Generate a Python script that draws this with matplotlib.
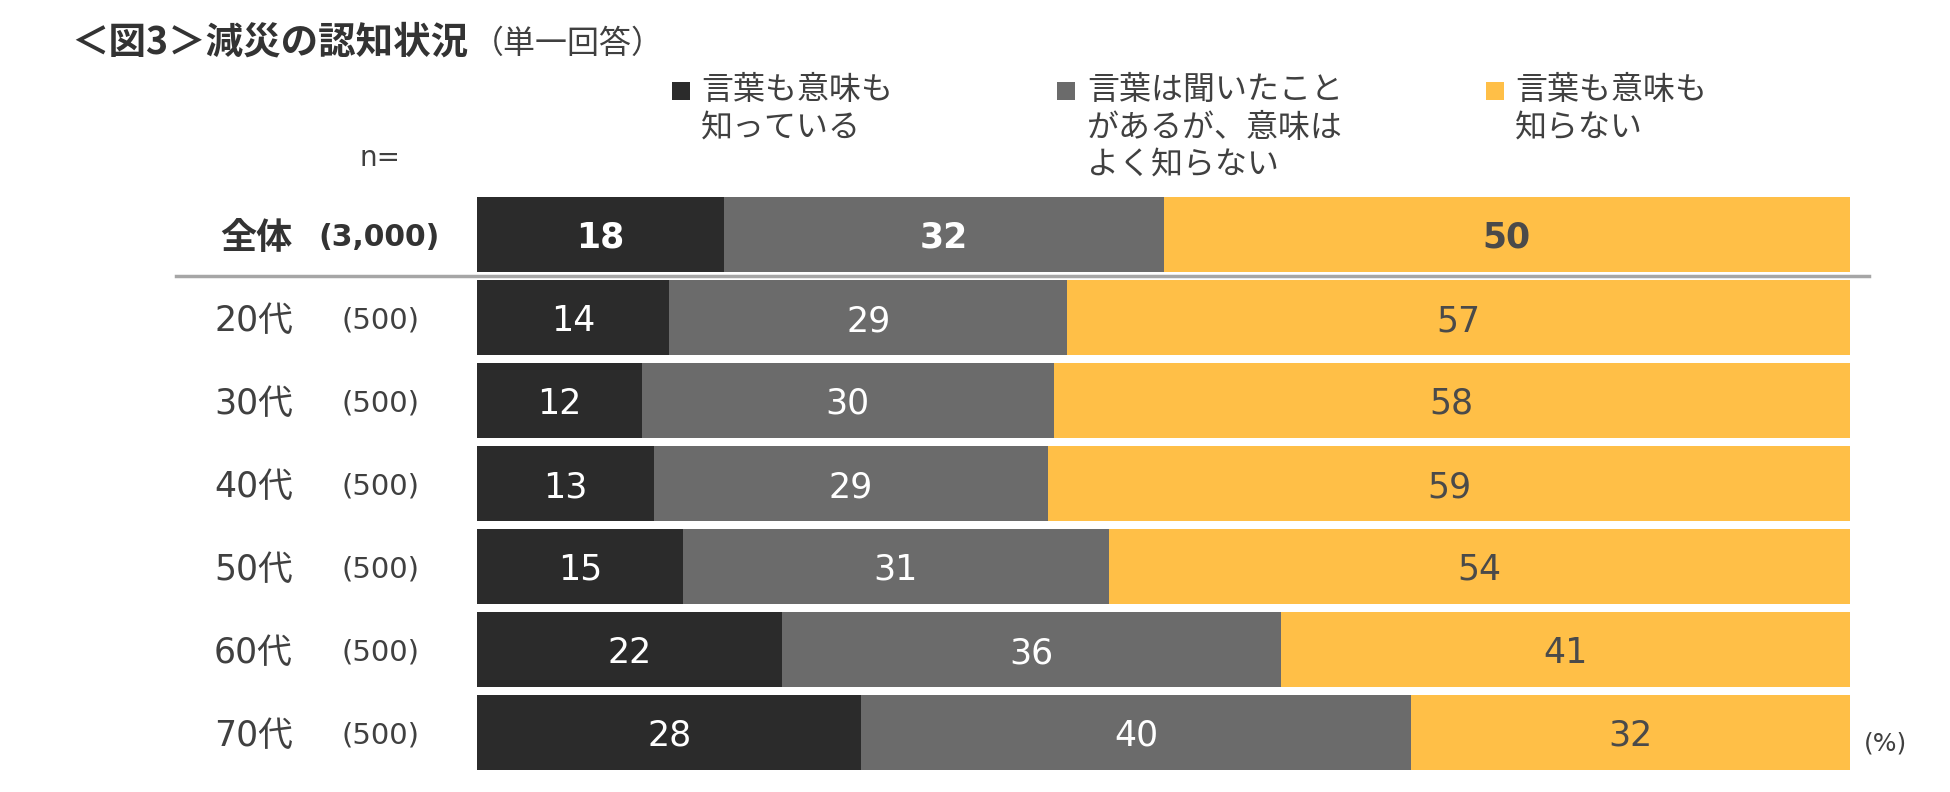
import numpy as np
import matplotlib.pyplot as plt
from matplotlib.patches import Rectangle
from matplotlib.lines import Line2D

CJK = ['Noto Sans CJK JP', 'DejaVu Sans']
LAT = ['DejaVu Sans', 'Noto Sans CJK JP']
plt.rcParams['font.family'] = CJK

# data
groups = ['全体', '20代', '30代', '40代', '50代', '60代', '70代']
n_labels = ['(3,000)', '(500)', '(500)', '(500)', '(500)', '(500)', '(500)']
know_both = [18, 14, 12, 13, 15, 22, 28]
heard_only = [32, 29, 30, 29, 31, 36, 40]
dont_know = [50, 57, 58, 59, 54, 41, 32]
series_names = ['言葉も意味も\n知っている',
                '言葉は聞いたこと\nがあるが、意味は\nよく知らない',
                '言葉も意味も\n知らない']

colors = ['#2b2b2b', '#6b6b6b', '#ffbf47']
text_colors = ['white', 'white', '#4a4a4a']

W, H = 1950, 792


def fx(px):
    return px / W


def fy(py):
    return 1 - py / H


fig = plt.figure(figsize=(W / 100, H / 100), dpi=100)

# bar area: x 0-100% maps to pixels 477..1850, rows centred 234.5 + 83*i
ax = fig.add_axes([fx(477), fy(774), (1850 - 477) / W, (774 - 193) / H])
ax.set_xlim(0, 100)
ax.set_ylim(6.5, -0.5)
ax.axis('off')

vals = np.array([know_both, heard_only, dont_know], dtype=float)
shares = vals / vals.sum(axis=0) * 100  # 100% stacked
lefts = np.vstack([np.zeros(len(groups)), np.cumsum(shares, axis=0)[:-1]])
y = np.arange(len(groups))

for k in range(3):
    ax.barh(y, shares[k], left=lefts[k], height=0.9, color=colors[k], linewidth=0)
    for i in range(len(groups)):
        bold = i == 0
        ax.text(lefts[k][i] + shares[k][i] / 2, i, f'{vals[k][i]:.0f}',
                ha='center', va='center_baseline', color=text_colors[k], family=LAT,
                fontsize=25, fontweight='bold' if bold else 'normal')

# row labels and sample sizes
for i, (g, n) in enumerate(zip(groups, n_labels)):
    py = 234.5 + 83 * i
    if i == 0:
        fig.text(fx(293), fy(py), g, ha='right', va='center_baseline',
                 fontsize=26, fontweight='bold', color='#333333', family=CJK)
        fig.text(fx(379), fy(py), n, ha='center', va='center_baseline',
                 fontsize=21.5, fontweight='bold', color='#333333', family=LAT)
    else:
        fig.text(fx(293), fy(py), g, ha='right', va='center_baseline',
                 fontsize=25, color='#404040', family=LAT)
        fig.text(fx(380), fy(py), n, ha='center', va='center_baseline',
                 fontsize=21, color='#404040', family=LAT)

fig.text(fx(360), fy(155), 'n=', ha='left', va='center_baseline', fontsize=20,
         color='#404040', family=LAT)

# separator under the total row
fig.add_artist(Line2D([fx(176), fx(1869)], [fy(276), fy(276)], color='#a6a6a6', lw=2.5))

# title
fig.text(fx(71), fy(38), '＜図3＞減災の認知状況', ha='left', va='center_baseline',
         fontsize=27, fontweight='bold', color='#333333')
fig.text(fx(472), fy(40), '（単一回答）', ha='left', va='center_baseline',
         fontsize=23, color='#404040')

# legend
legend_sq_x = [672, 1057, 1486]
legend_tx_x = [701, 1087, 1515]
for k in range(3):
    fig.add_artist(Rectangle((fx(legend_sq_x[k]), fy(100)), 18 / W, 18 / H,
                             color=colors[k], transform=fig.transFigure, lw=0))
    fig.text(fx(legend_tx_x[k]), fy(74), series_names[k], ha='left', va='top',
             fontsize=23, color='#404040', linespacing=1.22)

fig.text(fx(1864), fy(741), '(%)', ha='left', va='center_baseline', fontsize=18,
         color='#404040', family=LAT)

fig.savefig('out.png', dpi=100)
